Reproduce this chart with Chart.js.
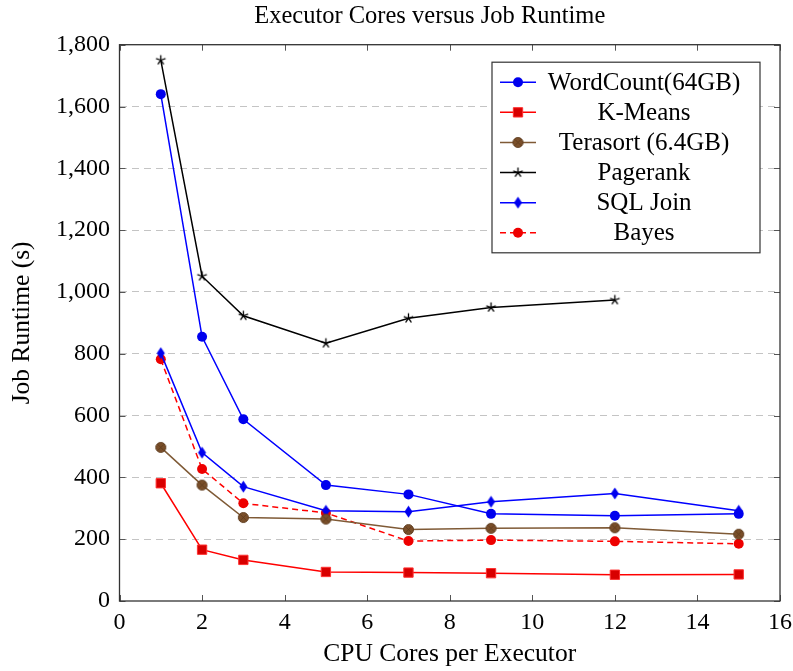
<!DOCTYPE html>
<html>
<head>
<meta charset="utf-8">
<title>Executor Cores versus Job Runtime</title>
<script src="https://cdn.jsdelivr.net/npm/chart.js"></script>
<style>
  html, body { margin: 0; padding: 0; background: #fff; }
  #wrap { width: 793px; height: 671px; }
</style>
</head>
<body>
<div id="wrap"><canvas id="runtime"></canvas></div>
<script>
// cores per executor tested for each workload
const cores = [1, 2, 3, 5, 7, 9, 12, 15];
const pagerankCores = [1, 2, 3, 5, 7, 9, 12];

// job runtime in seconds
const wordCount = [1640, 855, 588, 375, 345, 282, 276, 282];
const kMeans = [381, 166, 133, 94, 92, 90, 85, 86];
const terasort = [497, 375, 270, 265, 231, 235, 237, 216];
const pagerank = [1750, 1051, 923, 834, 915, 950, 974];
const sqlJoin = [802, 480, 370, 292, 289, 321, 348, 292];
const bayes = [782, 427, 316, 285, 194, 197, 193, 185];

const xTicks = [0, 2, 4, 6, 8, 10, 12, 14, 16];
const yTicks = [0, 200, 400, 600, 800, 1000, 1200, 1400, 1600, 1800];

const chartTitle = 'Executor Cores versus Job Runtime';

const FONT = '"Liberation Serif", "Times New Roman", serif';

function points(xs, ys) {
  return xs.map((x, i) => ({ x: x, y: ys[i] }));
}

// small canvases for the marks Chart.js has no built-in for
function starMark(color) {
  const c = document.createElement('canvas');
  c.width = 13; c.height = 13;
  const g = c.getContext('2d');
  g.strokeStyle = color;
  g.lineWidth = 1.3;
  g.beginPath();
  for (let k = 0; k < 5; k++) {
    const a = -Math.PI / 2 + k * 2 * Math.PI / 5;
    g.moveTo(6.5, 6.5);
    g.lineTo(6.5 + 5 * Math.cos(a), 6.5 + 5 * Math.sin(a));
  }
  g.stroke();
  return c;
}

function diamondMark(color) {
  const c = document.createElement('canvas');
  c.width = 11; c.height = 13;
  const g = c.getContext('2d');
  g.fillStyle = color;
  g.beginPath();
  g.moveTo(5.5, 0.5);
  g.lineTo(9.5, 6.5);
  g.lineTo(5.5, 12.5);
  g.lineTo(1.5, 6.5);
  g.closePath();
  g.fill();
  return c;
}

function otimesMark(fill, dark) {
  const c = document.createElement('canvas');
  c.width = 13; c.height = 13;
  const g = c.getContext('2d');
  g.fillStyle = fill;
  g.strokeStyle = dark;
  g.lineWidth = 1;
  g.beginPath();
  g.arc(6.5, 6.5, 5, 0, Math.PI * 2);
  g.fill();
  g.stroke();
  g.lineWidth = 0.8;
  g.beginPath();
  g.moveTo(3.6, 3.6); g.lineTo(9.4, 9.4);
  g.moveTo(9.4, 3.6); g.lineTo(3.6, 9.4);
  g.stroke();
  return c;
}

const BROWN = '#7f5a36';

const datasets = [
  {
    label: 'WordCount(64GB)',
    data: points(cores, wordCount),
    borderColor: '#0000ff',
    backgroundColor: '#0000ee',
    pointStyle: 'circle',
    pointRadius: 5
  },
  {
    label: 'K-Means',
    data: points(cores, kMeans),
    borderColor: '#ff0000',
    backgroundColor: '#d80000',
    pointStyle: 'rect',
    pointRadius: 6.6,
    pointBorderWidth: 1,
    pointBorderColor: '#ff3030'
  },
  {
    label: 'Terasort (6.4GB)',
    data: points(cores, terasort),
    borderColor: BROWN,
    backgroundColor: '#7a4f2a',
    pointStyle: otimesMark('#7a4f2a', '#5c3a1c')
  },
  {
    label: 'Pagerank',
    data: points(pagerankCores, pagerank),
    borderColor: '#000000',
    backgroundColor: '#000000',
    pointStyle: starMark('#000000')
  },
  {
    label: 'SQL Join',
    data: points(cores, sqlJoin),
    borderColor: '#0000ff',
    backgroundColor: '#0000ee',
    pointStyle: diamondMark('#0000ee')
  },
  {
    label: 'Bayes',
    data: points(cores, bayes),
    borderColor: '#ff0000',
    backgroundColor: '#ee0000',
    borderDash: [6, 4],
    pointStyle: 'circle',
    pointRadius: 5
  }
];

datasets.forEach(d => {
  d.borderWidth = 1.5;
  d.tension = 0;
  d.fill = false;
  if (d.pointRadius === undefined) d.pointRadius = 5;
  if (d.pointBorderWidth === undefined) d.pointBorderWidth = 0;
  if (d.pointBorderColor === undefined) d.pointBorderColor = d.borderColor;
});

// title sits a little left of the plot centre, drawn by hand
const titlePlugin = {
  id: 'plotTitle',
  afterDraw(chart) {
    const { ctx, chartArea: a } = chart;
    ctx.save();
    ctx.font = '24.5px ' + FONT;
    ctx.fillStyle = '#000';
    ctx.textAlign = 'center';
    ctx.textBaseline = 'middle';
    ctx.fillText(chartTitle, (a.left + a.right) / 2 - 20, 17);
    ctx.restore();
  }
};

// box round the plot with inward ticks on all four sides
const framePlugin = {
  id: 'frame',
  afterDatasetsDraw(chart) {
    const { ctx, chartArea: a, scales } = chart;
    const len = 6;
    ctx.save();
    ctx.strokeStyle = '#555';
    ctx.lineWidth = 1;
    ctx.beginPath();
    xTicks.forEach(v => {
      const px = Math.round(scales.x.getPixelForValue(v)) + 0.5;
      ctx.moveTo(px, a.bottom); ctx.lineTo(px, a.bottom - len);
      ctx.moveTo(px, a.top); ctx.lineTo(px, a.top + len);
    });
    yTicks.forEach(v => {
      const py = Math.round(scales.y.getPixelForValue(v)) + 0.5;
      ctx.moveTo(a.left, py); ctx.lineTo(a.left + len, py);
      ctx.moveTo(a.right, py); ctx.lineTo(a.right - len, py);
    });
    ctx.stroke();
    ctx.strokeStyle = '#333';
    ctx.lineWidth = 1.3;
    ctx.strokeRect(a.left, a.top, a.right - a.left, a.bottom - a.top);
    ctx.restore();
  }
};

// legend box in the upper right, line sample with marker then centred label
const legendPlugin = {
  id: 'boxLegend',
  afterDraw(chart) {
    const { ctx, chartArea: a } = chart;
    const w = 268, rowH = 30.1, pad = 5;
    const h = datasets.length * rowH + pad * 2;
    const right = a.right - 20, top = a.top + 17.5;
    const left = right - w;
    ctx.save();
    ctx.fillStyle = '#fff';
    ctx.fillRect(left, top, w, h);
    ctx.strokeStyle = '#333';
    ctx.lineWidth = 1.2;
    ctx.strokeRect(left, top, w, h);

    ctx.font = '25px ' + FONT;
    ctx.textBaseline = 'middle';
    ctx.textAlign = 'center';
    const textCenter = left + 152;
    chart.data.datasets.forEach((d, i) => {
      const y = top + pad + rowH * (i + 0.5);
      ctx.strokeStyle = d.borderColor;
      ctx.lineWidth = d.borderWidth;
      ctx.setLineDash(d.borderDash || []);
      ctx.beginPath();
      ctx.moveTo(left + 8, y);
      ctx.lineTo(left + 44, y);
      ctx.stroke();
      ctx.setLineDash([]);
      ctx.fillStyle = d.backgroundColor;
      ctx.strokeStyle = d.pointBorderColor;
      ctx.lineWidth = d.pointBorderWidth;
      Chart.helpers.drawPoint(ctx, {
        pointStyle: d.pointStyle,
        radius: d.pointRadius,
        rotation: 0,
        borderWidth: d.pointBorderWidth
      }, left + 26, y);
      ctx.fillStyle = '#000';
      ctx.fillText(d.label, textCenter, y + 1);
    });
    ctx.restore();
  }
};

Chart.defaults.font.family = FONT;
Chart.defaults.font.size = 24;
Chart.defaults.color = '#000';

function noEdgePadding(scale) {
  scale.paddingLeft = 0;
  scale.paddingRight = 0;
  scale.paddingTop = 0;
  scale.paddingBottom = 0;
}

new Chart(document.getElementById('runtime'), {
  type: 'line',
  data: { datasets: datasets },
  options: {
    responsive: true,
    maintainAspectRatio: false,
    animation: false,
    events: [],
    layout: { padding: { left: 0, right: 13, top: 44.7, bottom: 0 } },
    scales: {
      x: {
        type: 'linear',
        min: 0,
        max: 16,
        afterBuildTicks(scale) { scale.ticks = xTicks.map(v => ({ value: v })); },
        afterFit(scale) { scale.height = 70; noEdgePadding(scale); },
        grid: { display: false, drawTicks: false },
        border: { display: false },
        ticks: { padding: 7, maxRotation: 0, autoSkip: false },
        title: {
          display: true,
          text: 'CPU Cores per Executor',
          font: { size: 25.5 },
          padding: { top: 0, bottom: 1 }
        }
      },
      y: {
        type: 'linear',
        min: 0,
        max: 1800,
        afterBuildTicks(scale) { scale.ticks = yTicks.map(v => ({ value: v })); },
        afterFit(scale) { scale.width = 119.5; noEdgePadding(scale); },
        grid: {
          color: ctx => (ctx.tick && (ctx.tick.value === 0 || ctx.tick.value === 1800)) ? 'rgba(0,0,0,0)' : '#c4c4c4',
          lineWidth: 1,
          drawTicks: false
        },
        border: { display: false, dash: [7, 5] },
        ticks: {
          padding: 9.5,
          autoSkip: false,
          callback: v => v.toLocaleString('en-US')
        },
        title: {
          display: true,
          text: 'Job Runtime (s)',
          font: { size: 25.5 },
          padding: { top: 7, bottom: 0 }
        }
      }
    },
    plugins: {
      legend: { display: false },
      tooltip: { enabled: false },
      title: { display: false }
    }
  },
  plugins: [framePlugin, legendPlugin, titlePlugin]
});
</script>
</body>
</html>
